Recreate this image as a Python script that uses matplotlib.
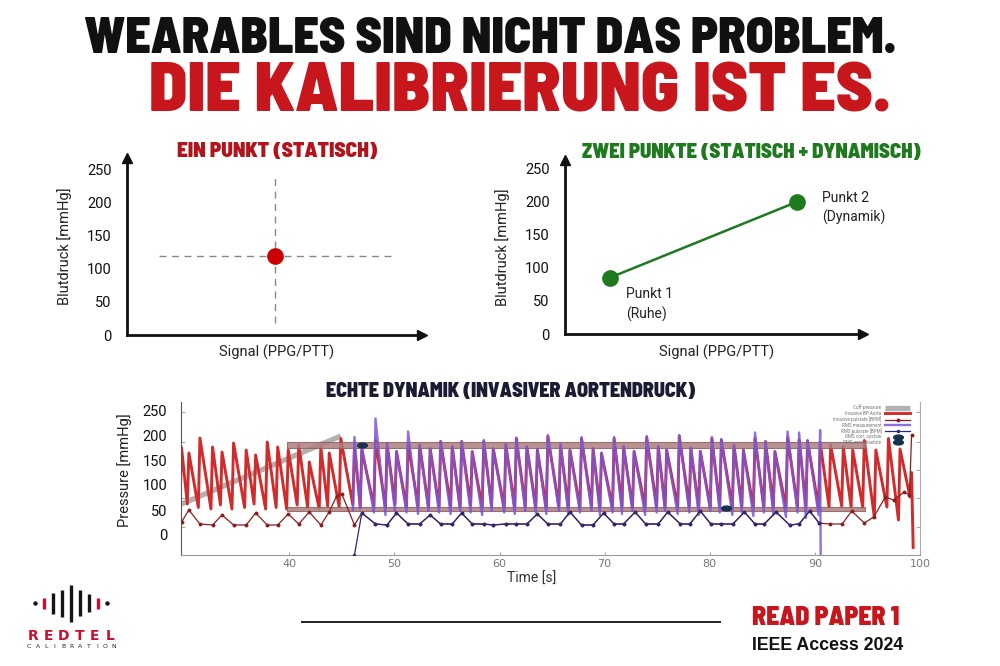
import os
import numpy as np
import matplotlib
matplotlib.use("Agg")
import matplotlib.pyplot as plt
from matplotlib import font_manager as fm
from matplotlib.path import Path
from matplotlib.lines import Line2D
from matplotlib.textpath import TextPath

# ---------------- data ----------------
bp_ticks = [0, 50, 100, 150, 200, 250]

# one point (static)
static_x = 5.0
static_p = 120
static_hline = [1.1, 9.0]
static_vline = [18, 238]

# two points (static + dynamic)
two_x = [1.5, 7.8]
two_p = [85, 200]
two_labels = ["Punkt 1\n(Ruhe)", "Punkt 2\n(Dynamik)"]

# invasive aortic pressure recording
time_ticks = [40, 50, 60, 70, 80, 90, 100]
red_t = [29.75, 30.45, 31.5, 32.7, 33.6, 34.7, 35.9, 36.8, 37.9, 38.9, 39.9, 40.9, 41.9, 43.0, 43.8, 44.9,
         46.2, 46.9, 48.2, 49.3, 50.2, 51.3, 52.4, 53.4, 54.4, 55.5, 56.4, 57.4, 58.5, 59.4, 60.6, 61.6, 62.6, 63.6,
         64.6, 65.8, 66.7, 67.8, 68.9, 69.7, 70.9, 71.8, 72.8, 74.0, 75.1, 75.9, 77.1, 78.2, 79.1, 80.2, 81.1,
         82.3, 83.2, 84.3, 85.3, 86.2, 87.4, 88.5, 89.3, 90.5, 91.5, 92.7, 93.6, 94.7, 95.8, 97.0, 98.1, 99.2]
red_sys = [175, 164, 194, 176, 166, 184, 170, 160, 186, 176, 170, 180, 146, 176, 164, 193,
           178, 170, 190, 183, 167, 183, 180, 173, 187, 177, 187, 167, 187, 173, 180, 193, 177, 170,
           197, 180, 170, 193, 173, 163, 193, 177, 167, 195, 177, 170, 198, 173, 167, 193, 190,
           180, 170, 193, 187, 167, 195, 190, 188, 185, 180, 177, 170, 189, 170, 193, 172, 125]
red_dia = [60, 62, 55, 52, 60, 52, 55, 62, 52, 55, 52, 60, 55, 52, 58, 56,
           60, 56, 58, 55, 62, 56, 58, 55, 56, 58, 55, 60, 56, 58, 55, 56, 58, 55,
           56, 58, 55, 56, 58, 55, 56, 58, 55, 56, 58, 55, 56, 58, 55, 56, 58,
           56, 58, 55, 56, 58, 55, 56, 58, 55, 56, 58, 55, 56, 36, 56, 30, 76]
red_end_t, red_end_p = 99.35, -25

rms_t = red_t[16:60]
rms_sys = [196, 176, 233, 183, 167, 207, 180, 173, 187, 177, 187, 167, 190, 173, 182, 195, 177, 172,
           200, 182, 170, 196, 173, 165, 196, 178, 167, 198, 178, 170, 200, 175, 168, 196, 192,
           180, 170, 205, 187, 167, 207, 205, 190, 210]
rms_dia = [50, 52, 45, 40, 48, 45, 42, 48, 45, 42, 48, 45, 40, 48, 45, 42, 48, 45,
           42, 48, 40, 45, 48, 40, 45, 42, 48, 40, 45, 48, 42, 45, 40, 48, 45,
           40, 45, 38, 45, 40, 36, 45, 34, 40]
rms_end_t, rms_end_p = 90.55, -40

pulse_t = [29.75, 30.45, 31.5, 32.7, 33.6, 34.7, 35.9, 36.8, 37.9, 38.9, 39.9, 40.9, 41.9, 43.0, 43.8, 44.5,
           45.0, 46.2, 46.9, 48.2, 49.3, 50.2, 51.3, 52.4, 53.4, 54.4, 55.5, 56.4, 57.4, 58.5, 59.4, 60.6,
           61.6, 62.6, 63.6, 64.6, 65.8, 66.7, 67.8, 68.9, 69.9, 70.9, 71.8, 72.9, 73.9, 75.1, 76.0, 77.2,
           78.1, 79.1, 80.1, 81.1, 82.2, 83.3, 84.3, 85.2, 86.3, 87.6, 88.5, 89.5, 90.4, 91.4, 92.6, 93.5,
           94.7, 95.6, 96.7, 97.5, 98.5, 99.0, 99.2]
pulse = [26, 50, 22, 20, 40, 20, 20, 44, 20, 20, 42, 22, 46, 20, 46, 78,
         82, 20, 44, 22, 20, 44, 22, 22, 40, 22, 22, 44, 22, 22, 20, 22,
         22, 22, 42, 22, 22, 46, 20, 20, 44, 22, 22, 46, 22, 22, 46, 22,
         22, 48, 22, 22, 22, 46, 22, 22, 46, 20, 22, 48, 24, 22, 22, 48,
         24, 36, 76, 70, 86, 80, 200]
rms_pulse_start = (46.2, -40)
rms_pulse_range = (46.9, 90.4)

cuff_t = [29.75, 44.9]
cuff_p = [62, 198]

band_t = [39.8, 94.8]
sys_band = (174, 187)
dia_band = (49, 57)
corr_sys = (46.9, 181)
corr_dia = (81.5, 54)

legend_labels = ["Cuff pressure", "Invasive BP Aorta", "Invasive pulsrate [BPM]", "RMS measurement",
                 "RMS pulsrate [BPM]", "RMS corr. systole", "RMS corr. diastole"]

logo_heights = [0, 11, 21, 27, 37, 26, 18, 11, 0]
logo_red = [False, True, False, False, False, False, False, True, False]

# ---------------- fonts ----------------
plt.rcParams['font.family'] = ['Roboto', 'DejaVu Sans']


def heavy_condensed():
    # prefer a black/extra-bold semi-condensed face, then condensed, then narrow
    best, best_key = None, None
    order = ['noto', 'roboto', 'liberation', 'open', 'dejavu']
    for f in fm.fontManager.ttflist:
        tag = (f.name + ' ' + os.path.basename(f.fname) + ' ' + str(f.stretch)).lower()
        if 'condensed' not in tag and 'narrow' not in tag:
            continue
        if f.style != 'normal' or 'italic' in tag:
            continue
        w = f.weight if isinstance(f.weight, (int, float)) else fm.weight_dict.get(f.weight, 400)
        if w < 600:
            continue
        if 'semi' in tag:
            cls = 0
        elif 'extra' in tag or 'ultra' in tag:
            cls = 2
        else:
            cls = 1
        fam = next((i for i, k in enumerate(order) if k in tag), len(order))
        key = (w < 800, cls, abs(w - 850), fam)
        if best_key is None or key < best_key:
            best, best_key = f, key
    if best is None:
        return fm.FontProperties(family=['DejaVu Sans'], weight='bold')
    return fm.FontProperties(fname=best.fname)


head = heavy_condensed()
RED = '#c8161d'
GREEN = '#1f7a1f'

fig = plt.figure(figsize=(10, 6.66), dpi=100)


def fy(py):
    return 1 - py / 666


fitted = []


def heading(x, py, s, width, cap, **kw):
    t = fig.text(x, fy(py), s, fontproperties=head, fontsize=20, va='baseline', **kw)
    fitted.append((t, width, cap))
    return t


heading(0.490, 53, "WEARABLES SIND NICHT DAS PROBLEM.", 811, 36, color='#111111', ha='center')
heading(0.520, 112, "DIE KALIBRIERUNG IST ES.", 808, 49, color=RED, ha='center')
heading(0.277, 157, "EIN PUNKT (STATISCH)", 200, 15, color='#b3141c', ha='center')
heading(0.751, 158, "ZWEI PUNKTE (STATISCH + DYNAMISCH)", 338, 15, color=GREEN, ha='center')
heading(0.511, 397, "ECHTE DYNAMIK (INVASIVER AORTENDRUCK)", 397, 14, color='#1b1b33', ha='center')
heading(0.752, 625, "READ PAPER 1", 175, 18, color=RED, ha='left')
fig.text(0.752, fy(650), "IEEE Access 2024", family=['Liberation Sans', 'DejaVu Sans'],
         fontweight='bold', fontsize=12.8, color='#111111', ha='left', va='baseline')


# ---------------- top calibration charts ----------------
def calib_axes(rect, ymax):
    ax = fig.add_axes(rect)
    ax.set_xlim(0, 10)
    ax.set_ylim(0, ymax)
    ax.spines[['top', 'right']].set_visible(False)
    for s in ('left', 'bottom'):
        ax.spines[s].set_linewidth(2)
        ax.spines[s].set_color('#111111')
    ax.set_xticks([])
    ax.set_yticks(bp_ticks)
    ax.tick_params(axis='y', length=0, pad=11, labelsize=10.5, labelcolor='#111111')
    ax.plot(1, 0, '>', color='#111111', ms=7, transform=ax.transAxes, clip_on=False)
    ax.plot(0, 1, '^', color='#111111', ms=7, transform=ax.transAxes, clip_on=False)
    ax.set_ylabel('Blutdruck [mmHg]', fontsize=10.5, color='#222222')
    ax.set_xlabel('Signal (PPG/PTT)', fontsize=10.5, color='#222222', va='top')
    ax.patch.set_alpha(0)
    return ax


ax1 = calib_axes([0.127, fy(335), 0.295, 177 / 666], 268)
ax1.yaxis.set_label_coords(-0.186, 0.5)
ax1.xaxis.set_label_coords(0.508, -0.055)
ax1.hlines(static_p, static_hline[0], static_hline[1], colors='#888888', linestyles=(0, (5, 4)), lw=1)
ax1.vlines(static_x, static_vline[0], static_vline[1], colors='#888888', linestyles=(0, (5, 4)), lw=1)
ax1.plot(static_x, static_p, 'o', color='#cc0000', ms=11, zorder=5)

ax2 = calib_axes([0.565, fy(334), 0.298, 174 / 666], 263)
ax2.yaxis.set_label_coords(-0.185, 0.5)
ax2.xaxis.set_label_coords(0.51, -0.06)
ax2.plot(two_x, two_p, '-o', color=GREEN, lw=1.8, ms=11, zorder=5)
ax2.annotate(two_labels[0], (two_x[0], two_p[0]), xytext=(12, -7), textcoords='offset points',
             va='top', ha='left', fontsize=10, color='#222222', linespacing=1.45)
ax2.annotate(two_labels[1], (two_x[1], two_p[1]), xytext=(18, 8), textcoords='offset points',
             va='top', ha='left', fontsize=10, color='#222222', linespacing=1.45)

# ---------------- invasive recording ----------------
ax3 = fig.add_axes([0.181, fy(555), 0.739, 153 / 666])
ax3.set_xlim(29.7, 100)
ax3.set_ylim(-40, 266)
rise = 0.15


def wave(tt, sys, dia):
    tt = np.asarray(tt)
    x = np.column_stack([tt - rise, tt]).ravel()
    y = np.column_stack([dia, sys]).ravel()
    return x, y


cuff_line, = ax3.plot(cuff_t, cuff_p, color='#a9a9a9', lw=3.8, alpha=0.9, solid_capstyle='butt', zorder=1)
rx, ry = wave(red_t, red_sys, red_dia)
red_line, = ax3.plot(np.append(rx, red_end_t), np.append(ry, red_end_p), color='#d22b2b', lw=2.1, zorder=2)
ax3.fill_between(band_t, sys_band[0], sys_band[1], color='#b07f7f', alpha=0.85, lw=0.8,
                 edgecolor='#8f6060', zorder=2.5)
ax3.fill_between(band_t, dia_band[0], dia_band[1], color='#b07f7f', alpha=0.85, lw=0.8,
                 edgecolor='#8f6060', zorder=2.5)
mx, my = wave(rms_t, rms_sys, rms_dia)
rms_line, = ax3.plot(np.append(mx, rms_end_t), np.append(my, rms_end_p), color='#7a55dc', lw=1.7,
                     alpha=0.85, zorder=3)
pulse_line, = ax3.plot(pulse_t, pulse, color='#8b1f1f', lw=0.9, marker='o', ms=1.8, zorder=4)
pt = np.asarray(pulse_t)
pv = np.asarray(pulse)
sel = (pt >= rms_pulse_range[0]) & (pt <= rms_pulse_range[1])
rms_pulse_line, = ax3.plot(np.append(rms_pulse_start[0], pt[sel]), np.append(rms_pulse_start[1], pv[sel]),
                           color='#2a2a7a', lw=0.9, marker='o', ms=1.5, zorder=4.5)

circ = Path.unit_circle()
ell = Path(circ.vertices * [1.0, 0.5], circ.codes)
sys_mark, = ax3.plot(*corr_sys, marker=ell, ms=7, color='#16324f', ls='none', zorder=6)
dia_mark, = ax3.plot(*corr_dia, marker=ell, ms=7, color='#16324f', ls='none', zorder=6)

ax3.spines['top'].set_visible(False)
ax3.spines['left'].set_color('#555555')
ax3.spines['bottom'].set_color('#999999')
ax3.spines['right'].set_color('#aaaaaa')
for s in ('bottom', 'right'):
    ax3.spines[s].set_linewidth(0.8)
ax3.set_yticks(bp_ticks)
ax3.set_yticks([16, 74, 130, 186, 246], minor=True)
ax3.tick_params(axis='y', which='major', length=0, pad=10, labelsize=10.5, labelcolor='#111111')
ax3.tick_params(axis='y', which='minor', direction='in', length=3, color='#999999', right=True)
ax3.set_xticks(time_ticks)
ax3.tick_params(axis='x', direction='in', length=2, color='#aaaaaa', pad=3, labelsize=8, labelcolor='#777777')
for lab in ax3.get_xticklabels():
    lab.set_family(['DejaVu Sans'])
ax3.set_ylabel('Pressure [mmHg]', fontsize=10.5, color='#222222')
ax3.yaxis.set_label_coords(-0.066, 0.556)
ax3.set_xlabel('Time [s]', fontsize=10, color='#333333', va='top')
ax3.xaxis.set_label_coords(0.474, -0.11)

handles = [cuff_line, red_line, pulse_line, rms_line, rms_pulse_line, sys_mark, dia_mark]
ax3.legend(handles, legend_labels, loc='upper right', bbox_to_anchor=(0.99, 0.998), fontsize=3.3,
           markerfirst=False, frameon=False, labelspacing=0.12, handlelength=5.5, handletextpad=0.8,
           borderpad=0, labelcolor='#777777')

# ---------------- logo ----------------
lax = fig.add_axes([0.026, fy(623), 0.090, 40 / 666])
lax.set_xlim(-1, 9)
lax.set_ylim(-20, 20)
lax.axis('off')
lh = np.asarray(logo_heights, dtype=float)
idx = np.arange(len(lh))
cols = np.where(logo_red, '#c8102e', '#151515')
bars = lh > 0
lax.vlines(idx[bars], -lh[bars] / 2, lh[bars] / 2, colors=cols[bars], lw=2.4)
lax.plot(idx[~bars], lh[~bars], 'o', color='#151515', ms=2.2)

for i, ch in enumerate("REDTEL"):
    fig.text((25 + 15.5 * (i + 0.5)) / 1000, fy(640), ch, family=['DejaVu Sans'], fontweight='bold',
             fontsize=10, color='#c8102e', ha='center', va='baseline')
for i, ch in enumerate("CALIBRATION"):
    fig.text((25 + 8.45 * (i + 0.5)) / 1000, fy(648), ch, family=['DejaVu Sans'],
             fontsize=4.4, color='#222222', ha='center', va='baseline')

fig.add_artist(Line2D([0.302, 0.720], [fy(622), fy(622)], color='#222222', lw=1.4))

# size headings: match width, but never exceed the cap height
fig.canvas.draw()
r = fig.canvas.get_renderer()
cap_ratio = TextPath((0, 0), "E", size=100, prop=head).get_extents().height / 100
for txt, w, cap in fitted:
    bb = txt.get_window_extent(r)
    fs_w = txt.get_fontsize() * w / bb.width
    fs_cap = cap / cap_ratio * 72 / 100
    txt.set_fontsize(min(fs_w, fs_cap))

fig.savefig('out.png', dpi=100, facecolor='white')
